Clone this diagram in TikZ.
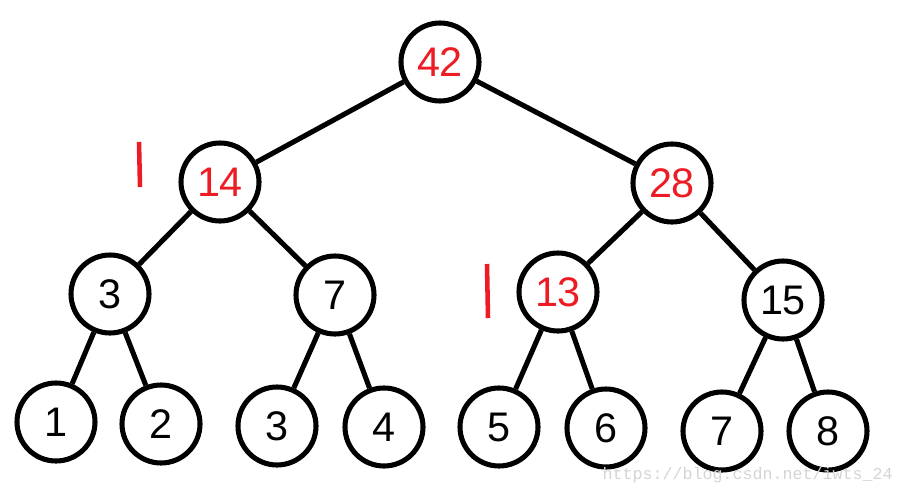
\documentclass[tikz,border=0pt]{standalone}
\usepackage{fontspec}
\setmainfont{Liberation Sans}
\newfontfamily\wmfont{Liberation Mono}
\definecolor{paintred}{HTML}{ED1C24}
\definecolor{wmgray}{HTML}{D4D4D4}
\begin{document}
\begin{tikzpicture}[x=0.75pt,y=-0.75pt,
  tnode/.style={circle,draw=black,line width=3.8pt,minimum size=78*0.75pt,inner sep=0pt,
    font=\fontsize{31}{31}\selectfont},
  rednum/.style={text=paintred},
  edge/.style={line width=3.8pt,black},
  redmark/.style={paintred,line width=3.4pt}]
\useasboundingbox (0,0) rectangle (904,496);
\node[tnode,rednum] (r) at (440,62) {42};
\node[tnode,rednum] (a) at (220,182) {14};
\node[tnode,rednum] (b) at (672,183) {28};
\node[tnode] (c) at (110,294) {3};
\node[tnode] (d) at (335,295) {7};
\node[tnode,rednum] (e) at (558,292) {13};
\node[tnode] (f) at (783,300) {15};
\node[tnode] (l1) at (56,422) {1};
\node[tnode] (l2) at (161,424) {2};
\node[tnode] (l3) at (277,426) {3};
\node[tnode] (l4) at (384,427) {4};
\node[tnode] (l5) at (499,427) {5};
\node[tnode] (l6) at (606,428) {6};
\node[tnode] (l7) at (722,431) {7};
\node[tnode] (l8) at (828,431) {8};
\draw[edge] (r) -- (a);
\draw[edge] (r) -- (b);
\draw[edge] (a) -- (c);
\draw[edge] (a) -- (d);
\draw[edge] (b) -- (e);
\draw[edge] (b) -- (f);
\draw[edge] (c) -- (l1);
\draw[edge] (c) -- (l2);
\draw[edge] (d) -- (l3);
\draw[edge] (d) -- (l4);
\draw[edge] (e) -- (l5);
\draw[edge] (e) -- (l6);
\draw[edge] (f) -- (l7);
\draw[edge] (f) -- (l8);
\coordinate (m1a) at (139,142);
\coordinate (m1b) at (140,187);
\coordinate (m2a) at (487,264);
\coordinate (m2b) at (488,318);
\draw[redmark] (m1a) -- (m1b);
\draw[redmark] (m2a) -- (m2b);
\node[anchor=base east,text=wmgray,font=\wmfont\fontsize{12.5}{12.5}\selectfont,inner sep=0pt] (wm) at (893,479) {https://blog.csdn.net/iwts\_24};
\end{tikzpicture}
\end{document}
